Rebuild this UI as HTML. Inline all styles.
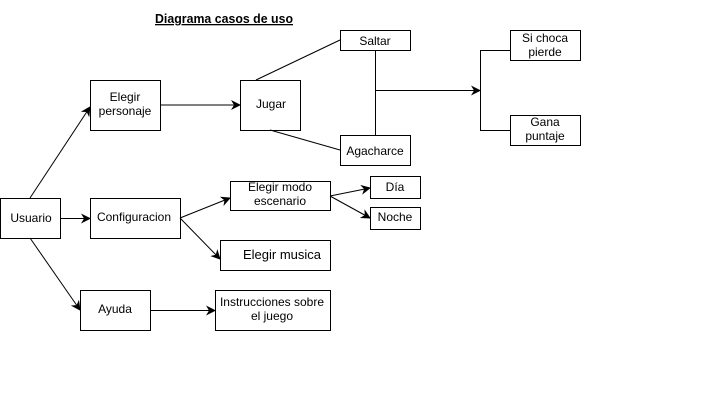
<!DOCTYPE html>
<html><head><meta charset="utf-8"><style>
html,body{margin:0;padding:0;background:#fff;}
svg{display:block;}
text{font-family:"Liberation Sans",Arial,sans-serif;font-size:12px;fill:#000;}
</style></head><body>
<svg width="702" height="400" viewBox="0 0 702 400" xmlns="http://www.w3.org/2000/svg">
<defs><marker id="a" viewBox="0 0 10 10" refX="9" refY="5" markerWidth="10" markerHeight="10" orient="auto" markerUnits="userSpaceOnUse"><path d="M0,0 L10,5 L0,10 L3,5 z" fill="#000"/></marker></defs>
<text x="155" y="23" textLength="138" lengthAdjust="spacingAndGlyphs" style="font-weight:bold;font-size:13px;text-decoration:underline">Diagrama casos de uso</text>
<g fill="#fff" stroke="#000" stroke-width="1">
<rect x="0.5" y="198.5" width="60" height="40"/>
<rect x="90.5" y="80.5" width="70" height="50"/>
<rect x="240.5" y="80.5" width="60" height="50"/>
<rect x="340.5" y="30.5" width="70" height="20"/>
<rect x="340.5" y="135.5" width="70" height="30"/>
<rect x="510.5" y="30.5" width="70" height="30"/>
<rect x="510.5" y="115.5" width="70" height="30"/>
<rect x="90.5" y="198.5" width="90" height="40"/>
<rect x="230.5" y="181.5" width="100" height="29"/>
<rect x="370.5" y="176.5" width="50" height="22"/>
<rect x="370.5" y="207.5" width="50" height="22"/>
<rect x="220.5" y="240.5" width="110" height="30"/>
<rect x="80.5" y="290.5" width="70" height="40"/>
<rect x="215.5" y="290.5" width="115" height="40"/>
</g>
<g stroke="#000" stroke-width="1" fill="none">
<line x1="30" y1="198" x2="90" y2="107" marker-end="url(#a)"/>
<line x1="160" y1="105" x2="240" y2="105" marker-end="url(#a)"/>
<line x1="256" y1="80" x2="340" y2="40"/>
<line x1="270" y1="130" x2="340" y2="150"/>
<line x1="375.5" y1="50" x2="375.5" y2="135"/>
<line x1="375" y1="90.5" x2="480" y2="90.5" marker-end="url(#a)"/>
<polyline points="510,50.5 480.5,50.5 480.5,130.5 510,130.5"/>
<line x1="60" y1="218.5" x2="90" y2="218.5" marker-end="url(#a)"/>
<line x1="30" y1="238" x2="80" y2="310" marker-end="url(#a)"/>
<line x1="180" y1="218" x2="230" y2="198" marker-end="url(#a)"/>
<line x1="180" y1="218" x2="220" y2="259" marker-end="url(#a)"/>
<line x1="330" y1="196" x2="370" y2="188" marker-end="url(#a)"/>
<line x1="330" y1="196" x2="370" y2="218" marker-end="url(#a)"/>
<line x1="150" y1="310.5" x2="215" y2="310.5" marker-end="url(#a)"/>
</g>
<g text-anchor="middle">
<text x="31" y="222">Usuario</text>
<text x="125" y="101">Elegir</text>
<text x="125" y="115">personaje</text>
<text x="271" y="108">Jugar</text>
<text x="375" y="45">Saltar</text>
<text x="375" y="155">Agacharce</text>
<text x="545" y="42">Si choca</text>
<text x="545" y="56">pierde</text>
<text x="545" y="126">Gana</text>
<text x="545" y="140">puntaje</text>
<text x="134" y="221">Configuracion</text>
<text x="280" y="191">Elegir modo</text>
<text x="280" y="205">escenario</text>
<text x="395" y="191">Día</text>
<text x="395" y="221">Noche</text>
<text x="282" y="259" style="font-size:13px">Elegir musica</text>
<text x="115" y="313">Ayuda</text>
<text x="272" y="306">Instrucciones sobre</text>
<text x="272" y="320">el juego</text>
</g>
</svg>
</body></html>
